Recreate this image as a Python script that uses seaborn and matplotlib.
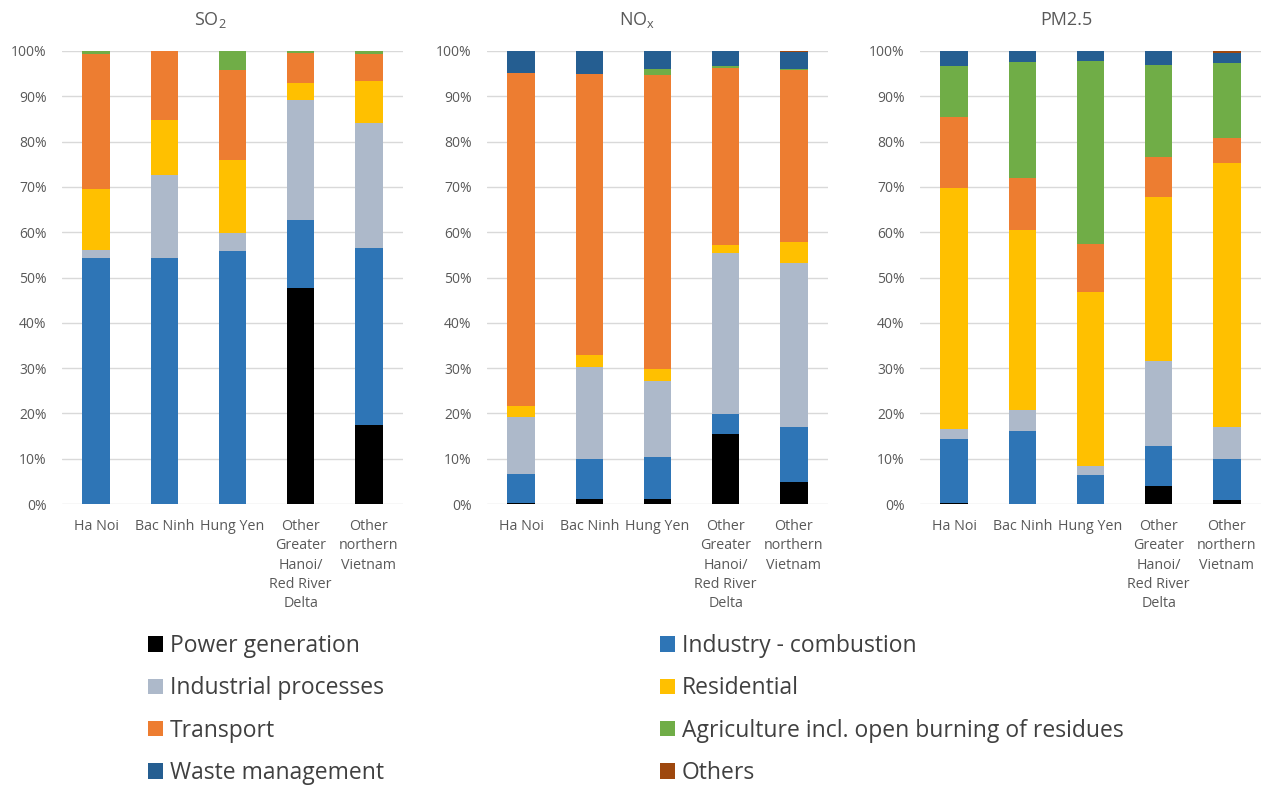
import numpy as np
import pandas as pd
import matplotlib
matplotlib.use("Agg")
import matplotlib.pyplot as plt
from matplotlib.patches import Patch
import seaborn as sns

regions = ["Ha Noi", "Bac Ninh", "Hung Yen",
           "Other\nGreater\nHanoi/\nRed River\nDelta", "Other\nnorthern\nVietnam"]
sectors = ["Power generation", "Industry - combustion", "Industrial processes",
           "Residential", "Transport", "Agriculture incl. open burning of residues",
           "Waste management", "Others"]
colors = ["#000000", "#2E75B6", "#ADB9CA", "#FFC000", "#ED7D31", "#70AD47",
          "#255E91", "#9E480E"]

# shares (%) per sector, one value per region
so2_power = [0.0, 0.0, 0.0, 47.6, 17.4]
so2_indcomb = [54.4, 54.4, 55.9, 15.0, 39.2]
so2_indproc = [1.7, 18.2, 3.9, 26.6, 27.5]
so2_resid = [13.4, 12.2, 16.2, 3.7, 9.3]
so2_transport = [29.8, 15.2, 19.9, 6.7, 6.0]
so2_agri = [0.7, 0.0, 4.1, 0.4, 0.6]
so2_waste = [0.0, 0.0, 0.0, 0.0, 0.0]
so2_others = [0.0, 0.0, 0.0, 0.0, 0.0]

nox_power = [0.3, 1.1, 1.1, 15.4, 4.9]
nox_indcomb = [6.3, 8.9, 9.2, 4.4, 12.1]
nox_indproc = [12.5, 20.2, 16.9, 35.6, 36.3]
nox_resid = [2.6, 2.7, 2.6, 1.7, 4.6]
nox_transport = [73.4, 62.0, 65.0, 39.2, 37.8]
nox_agri = [0.0, 0.0, 1.2, 0.4, 0.3]
nox_waste = [4.9, 5.1, 4.0, 3.3, 3.8]
nox_others = [0.0, 0.0, 0.0, 0.0, 0.2]

pm_power = [0.2, 0.0, 0.0, 3.9, 0.8]
pm_indcomb = [14.2, 16.1, 6.3, 8.9, 9.2]
pm_indproc = [2.1, 4.7, 2.0, 18.8, 7.0]
pm_resid = [53.2, 39.6, 38.4, 36.1, 58.3]
pm_transport = [15.8, 11.6, 10.6, 9.0, 5.5]
pm_agri = [11.1, 25.6, 40.4, 20.2, 16.5]
pm_waste = [3.4, 2.4, 2.3, 3.1, 2.2]
pm_others = [0.0, 0.0, 0.0, 0.0, 0.5]

panels = [
    ("SO$_2$", [so2_power, so2_indcomb, so2_indproc, so2_resid, so2_transport,
                so2_agri, so2_waste, so2_others]),
    ("NO$_x$", [nox_power, nox_indcomb, nox_indproc, nox_resid, nox_transport,
                nox_agri, nox_waste, nox_others]),
    ("PM2.5", [pm_power, pm_indcomb, pm_indproc, pm_resid, pm_transport,
               pm_agri, pm_waste, pm_others]),
]

sns.set_theme(style="white")
plt.rcParams["font.family"] = ["Open Sans", "DejaVu Sans"]
plt.rcParams["mathtext.default"] = "regular"

W, H = 1261, 789
fig = plt.figure(figsize=(W / 100, H / 100), dpi=100)
lefts = [62, 487, 920]
title_x = [210, 637, 1066]
axw = 341
top_px, bot_px = 51, 504

for (title, series), lx, tx in zip(panels, lefts, title_x):
    ax = fig.add_axes([lx / W, 1 - bot_px / H, axw / W, (bot_px - top_px) / H])
    arr = np.array(series, dtype=float)
    frac = arr / arr.sum(axis=0)
    cum = np.cumsum(frac, axis=0)
    for i in range(len(sectors) - 1, -1, -1):
        df = pd.DataFrame({"region": regions, "value": cum[i]})
        sns.barplot(data=df, x="region", y="value", order=regions, color=colors[i],
                    width=0.4, linewidth=0, saturation=1, ax=ax, zorder=3)
    ax.set_ylim(0, 1)
    ax.set_xlim(-0.5, 4.5)
    ax.set_yticks(np.arange(0, 1.01, 0.1))
    ax.set_yticklabels([f"{int(round(v * 100))}%" for v in np.arange(0, 1.01, 0.1)])
    ax.yaxis.grid(True, color="#D9D9D9", linewidth=1, zorder=0)
    ax.set_axisbelow(True)
    for s in ax.spines.values():
        s.set_visible(False)
    ax.tick_params(axis="both", length=0, labelsize=10, colors="#595959")
    ax.tick_params(axis="x", pad=11, labelsize=10.3)
    ax.tick_params(axis="y", pad=11)
    ax.set_xlabel("")
    ax.set_ylabel("")
    for lab in ax.get_xticklabels():
        lab.set_linespacing(1.38)
    fig.text(tx / W, 1 - 20 / H, title, fontsize=13, color="#595959",
             ha="center", va="center")

handles = [Patch(facecolor=c, edgecolor="none") for c in colors]
left_idx = [0, 2, 4, 6]
right_idx = [1, 3, 5, 7]
for idx, xpx in [(left_idx, 148), (right_idx, 660)]:
    fig.legend([handles[i] for i in idx], [sectors[i] for i in idx],
               loc="upper left", bbox_to_anchor=(xpx / W, 1 - 634 / H),
               frameon=False, fontsize=16.5, handlelength=0.66, handleheight=0.66,
               handletextpad=0.3, labelspacing=0.8, borderpad=0,
               borderaxespad=0, labelcolor="#404040")

fig.savefig("out.png", dpi=100)
